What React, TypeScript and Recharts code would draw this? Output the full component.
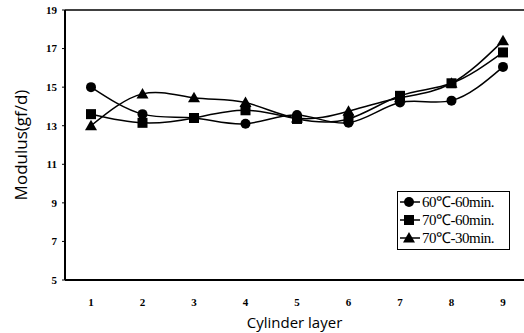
import React from "react";
import { LineChart, Line, XAxis, YAxis, ReferenceLine } from "recharts";

const layers = [1, 2, 3, 4, 5, 6, 7, 8, 9];
const s60_60 = [15.0, 13.6, 13.4, 13.1, 13.55, 13.15, 14.2, 14.3, 16.05];
const s70_60 = [13.6, 13.15, 13.4, 13.8, 13.35, 13.35, 14.55, 15.2, 16.8];
const s70_30 = [13.0, 14.65, 14.45, 14.2, 13.4, 13.75, 14.45, 15.2, 17.4];
const yTicks = [5, 7, 9, 11, 13, 15, 17, 19];

const data = layers.map((layer, i) => ({
  layer,
  a: s60_60[i],
  b: s70_60[i],
  c: s70_30[i],
}));

type Shape = "circle" | "square" | "triangle";

function Marker({ cx, cy, shape }: { cx: number; cy: number; shape: Shape }) {
  if (shape === "circle") return <circle cx={cx} cy={cy} r={5} fill="#000" />;
  if (shape === "square")
    return <rect x={cx - 5} y={cy - 5} width={10} height={10} fill="#000" />;
  return (
    <polygon
      points={`${cx},${cy - 6} ${cx - 6},${cy + 4.5} ${cx + 6},${cy + 4.5}`}
      fill="#000"
    />
  );
}

const dotFor = (shape: Shape) => (props: any) =>
  <Marker key={`${shape}-${props.index}`} cx={props.cx} cy={props.cy} shape={shape} />;

const series: { key: string; name: string; shape: Shape }[] = [
  { key: "a", name: "60℃-60min.", shape: "circle" },
  { key: "b", name: "70℃-60min.", shape: "square" },
  { key: "c", name: "70℃-30min.", shape: "triangle" },
];

function LegendBox() {
  return (
    <div
      style={{
        position: "absolute",
        left: 397,
        top: 191,
        width: 109,
        height: 56,
        border: "1.5px solid #000",
        background: "#fff",
        padding: "1px 0 0 2px",
        fontFamily: "Liberation Serif",
        fontSize: 15,
        lineHeight: "18px",
        letterSpacing: -0.5,
        whiteSpace: "nowrap",
      }}
    >
      {series.map((s) => (
        <div key={s.key} style={{ display: "flex", alignItems: "center" }}>
          <svg width={20} height={14}>
            <line x1={0} y1={7} x2={20} y2={7} stroke="#000" strokeWidth={1.5} />
            <Marker cx={9} cy={7} shape={s.shape} />
          </svg>
          <span style={{ marginLeft: 2 }}>{s.name}</span>
        </div>
      ))}
    </div>
  );
}

const tickFont = { fontFamily: "Liberation Serif", fontWeight: 700, fontSize: 11, fill: "#000" };

export default function App() {
  return (
    <div style={{ position: "absolute", left: 0, top: 0, width: 524, height: 333, background: "#fff" }}>
      <LineChart
        width={524}
        height={333}
        data={data}
        margin={{ top: 10, right: 0, left: 0, bottom: 23 }}
      >
        <XAxis
          dataKey="layer"
          type="number"
          domain={[1, 9]}
          ticks={layers}
          padding={{ left: 26, right: 21 }}
          tickLine={false}
          axisLine={{ stroke: "#000", strokeWidth: 2 }}
          tick={tickFont}
          tickMargin={12}
          height={30}
          label={{
            value: "Cylinder layer",
            position: "insideBottom",
            offset: -18,
            style: { fontFamily: "Open Sans", fontSize: 15, fill: "#000" },
          }}
        />
        <YAxis
          domain={[5, 19]}
          ticks={yTicks}
          width={65}
          axisLine={{ stroke: "#000", strokeWidth: 2 }}
          tickLine={{ stroke: "#000" }}
          tickSize={3}
          tick={tickFont}
          tickMargin={5}
          label={{
            value: "Modulus(gf/d)",
            angle: -90,
            position: "insideLeft",
            offset: 21,
            style: { fontFamily: "Open Sans", fontSize: 17, fill: "#000", textAnchor: "middle" },
          }}
        />
        <ReferenceLine y={19} stroke="#000" strokeWidth={1.5} />
        {series.map((s) => (
          <Line
            key={s.key}
            type="natural"
            dataKey={s.key}
            name={s.name}
            stroke="#000"
            strokeWidth={1.5}
            dot={dotFor(s.shape)}
            activeDot={false}
            isAnimationActive={false}
          />
        ))}
      </LineChart>
      <LegendBox />
    </div>
  );
}
